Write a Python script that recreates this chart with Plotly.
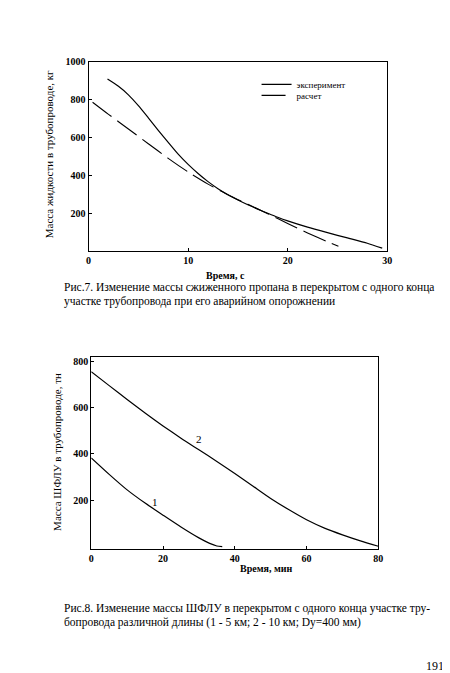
import plotly.graph_objects as go

# Fig. 7 data
exp_t = [1.9, 3, 4, 5, 6, 7, 8, 9, 10, 11, 12, 13, 14, 15, 16, 17, 18, 19, 20, 22, 24, 26, 28, 29.5]
exp_m = [908, 870, 825, 768, 704, 638, 574, 512, 458, 410, 367, 330, 298, 270, 245, 222, 200, 179, 160, 127, 98, 70, 42, 16]
calc_t = [0.4, 2, 4, 6, 8, 10, 12, 14, 16, 18, 20, 22, 24, 25.1]
calc_m = [786, 722, 645, 567, 490, 418, 354, 298, 248, 198, 146, 96, 50, 26]
f7_xticks = [0, 10, 20, 30]
f7_yticks = [200, 400, 600, 800, 1000]

# Fig. 8 data
c1_t = [0, 5, 10, 15, 20, 25, 30, 33, 35, 36.5]
c1_m = [383, 312, 245, 188, 136, 85, 38, 14, 3, 0]
c2_t = [0, 5, 10, 15, 20, 25, 30, 35, 40, 45, 50, 55, 60, 65, 70, 75, 80]
c2_m = [755, 695, 635, 577, 521, 468, 418, 368, 316, 262, 208, 160, 116, 80, 51, 25, 2]
f8_xticks = [0, 20, 40, 60, 80]
f8_yticks = [200, 400, 600, 800]

W, H = 450, 673
SERIF = "Liberation Serif, DejaVu Serif, serif"

def px(x):
    return x / W

def py(y):
    return 1 - y / H

fig = go.Figure()
fig.add_trace(go.Scatter(x=exp_t, y=exp_m, mode="lines", name="эксперимент", legend="legend",
                         line=dict(color="black", width=1.2, shape="spline", smoothing=0.6),
                         xaxis="x", yaxis="y"))
fig.add_trace(go.Scatter(x=calc_t, y=calc_m, mode="lines", name="расчет", legend="legend2",
                         line=dict(color="black", width=1.1, dash="24px,7px", shape="spline", smoothing=0.6),
                         xaxis="x", yaxis="y"))
fig.add_trace(go.Scatter(x=c1_t, y=c1_m, mode="lines", showlegend=False,
                         line=dict(color="black", width=1.2, shape="spline", smoothing=0.6),
                         xaxis="x2", yaxis="y2"))
fig.add_trace(go.Scatter(x=c2_t, y=c2_m, mode="lines", showlegend=False,
                         line=dict(color="black", width=1.2, shape="spline", smoothing=0.6),
                         xaxis="x2", yaxis="y2"))

tickfont = dict(family=SERIF, size=10, color="black", weight="bold")
ax_common = dict(showline=True, linecolor="black", linewidth=1.2, mirror=True,
                 showgrid=False, zeroline=False, ticks="inside", ticklen=3,
                 tickcolor="black", tickfont=tickfont)

leg_common = dict(xanchor="left", yanchor="middle", bgcolor="rgba(0,0,0,0)",
                  font=dict(family=SERIF, size=9, color="black"), itemwidth=30,
                  borderwidth=0)

fig.update_layout(
    width=W, height=H, autosize=False,
    margin=dict(l=0, r=0, t=0, b=0),
    paper_bgcolor="white", plot_bgcolor="white",
    xaxis=dict(domain=[px(79), px(383)], range=[0, 30], anchor="y",
               tickvals=f7_xticks, **ax_common),
    yaxis=dict(domain=[py(240), py(49)], range=[0, 1000], anchor="x",
               tickvals=f7_yticks, **ax_common),
    xaxis2=dict(domain=[px(81.7), px(374)], range=[0, 80], anchor="y2",
                tickvals=f8_xticks, **ax_common),
    yaxis2=dict(domain=[py(540), py(346.7)], range=[-10, 818], anchor="x2",
                tickvals=f8_yticks, **ax_common),
    legend=dict(x=px(250), y=py(72), **leg_common),
    legend2=dict(x=px(250), y=py(83), **leg_common),
    showlegend=True,
)

ann = []
def text(x, y, s, size=11.5, xanchor="center", angle=0, xref="paper", yref="paper"):
    ann.append(dict(x=x, y=y, xref=xref, yref=yref, text=s, showarrow=False,
                    xanchor=xanchor, yanchor="middle", textangle=angle,
                    font=dict(family=SERIF, size=size, color="black")))

text(px(39), py(142), "Масса жидкости в трубопроводе, кг", size=11, angle=-90)
text(px(218), py(264), "<b>Время, с</b>", size=10)
text(px(52), py(277), "Рис.7. Изменение массы сжиженного пропана в перекрытом с одного конца", xanchor="left")
text(px(52), py(291), "участке трубопровода при его аварийном опорожнении", xanchor="left")

text(px(47), py(442), "Масса ШФЛУ в трубопроводе, тн", size=11, angle=-90)
text(px(260), py(560), "<b>Время, мин</b>", size=10)
text(30, 465, "2", size=11, xref="x2", yref="y2")
text(17.8, 191, "1", size=11, xref="x2", yref="y2")
text(px(52), py(600), "Рис.8. Изменение массы ШФЛУ в перекрытом с одного конца участке тру-", xanchor="left")
text(px(52), py(614), "бопровода различной длины (1 - 5 км; 2 - 10 км; Dу=400 мм)", xanchor="left")
text(px(432), py(658), "191", size=12)

fig.update_layout(annotations=ann)
fig.write_html("out.html")
